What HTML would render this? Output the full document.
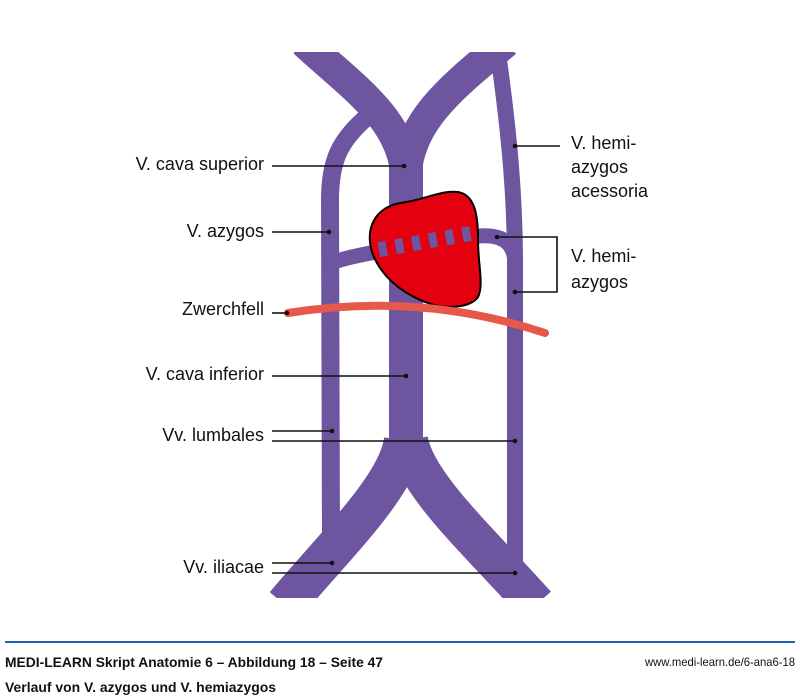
<!DOCTYPE html>
<html><head><meta charset="utf-8"><style>
body{margin:0;background:#fff;}
svg{display:block;}
text{font-family:"Liberation Sans",sans-serif;}
</style></head><body>
<svg width="800" height="696" viewBox="0 0 800 696" xmlns="http://www.w3.org/2000/svg">
<defs><clipPath id="c"><rect x="0" y="52" width="800" height="546"/></clipPath></defs>
<g clip-path="url(#c)" fill="none" stroke="#6e55a0">
 <path d="M304,42 C350,85 402,118 406,175" stroke-width="31"/>
 <path d="M506,42 C455,85 410,118 406,175" stroke-width="31"/>
 <path d="M406,150 L406,450" stroke-width="34"/>
 <path d="M404,440 C398,485 340,540 285,605" stroke-width="40"/>
 <path d="M408,440 C416,485 478,540 536,605" stroke-width="40"/>
 <path d="M331,545 L330,200 C330,160 340,140 368,116" stroke-width="18"/>
 <path d="M515,572 L515,265 C515,200 510,140 499,60" stroke-width="16"/>
 <path d="M331,263 C350,256 380,251 420,245 L470,237 C502,232 515,242 515,265" stroke-width="15"/>
</g>
<path d="M400,203 C425,200 440,190 458,192 C475,195 478,215 478,240 C478,265 484,285 478,297 C470,308 445,310 425,302 C400,292 380,275 372,252 C365,228 375,208 400,203 Z" fill="#e3000f" stroke="#000" stroke-width="2"/>
<g fill="#6e55a0" transform="rotate(-10 425 241)">
 <rect x="378" y="234" width="8" height="15"/><rect x="395" y="234" width="8" height="15"/><rect x="412" y="234" width="8" height="15"/><rect x="429" y="234" width="8" height="15"/><rect x="446" y="234" width="8" height="15"/><rect x="463" y="234" width="8" height="15"/>
</g>
<path d="M288,313 C350,303 440,298 545,333" fill="none" stroke="#e8584a" stroke-width="8" stroke-linecap="round"/>
<g stroke="#111" stroke-width="1.6" fill="none">
 <path d="M272,166 H404"/><path d="M272,232 H329"/><path d="M272,313 H287"/><path d="M272,376 H406"/>
 <path d="M272,431 H332"/><path d="M272,441 H515"/><path d="M272,563 H332"/><path d="M272,573 H515"/>
 <path d="M515,146 H560"/><path d="M497,237 H557 V292 H515"/>
</g>
<g fill="#111">
 <circle cx="404" cy="166" r="2.3"/><circle cx="329" cy="232" r="2.3"/><circle cx="287" cy="313" r="2.3"/><circle cx="406" cy="376" r="2.3"/>
 <circle cx="332" cy="431" r="2.3"/><circle cx="515" cy="441" r="2.3"/><circle cx="332" cy="563" r="2.3"/><circle cx="515" cy="573" r="2.3"/>
 <circle cx="515" cy="146" r="2.3"/><circle cx="497" cy="237" r="2.3"/><circle cx="515" cy="292" r="2.3"/>
</g>
<g font-size="18" fill="#111" text-anchor="end">
 <text x="264" y="170">V. cava superior</text>
 <text x="264" y="237">V. azygos</text>
 <text x="264" y="315">Zwerchfell</text>
 <text x="264" y="380">V. cava inferior</text>
 <text x="264" y="441">Vv. lumbales</text>
 <text x="264" y="573">Vv. iliacae</text>
</g>
<g font-size="18" fill="#111">
 <text x="571" y="149">V. hemi-</text>
 <text x="571" y="173">azygos</text>
 <text x="571" y="197">acessoria</text>
 <text x="571" y="262">V. hemi-</text>
 <text x="571" y="288">azygos</text>
</g>
<rect x="5" y="641" width="790" height="2" fill="#1f5fb0"/>
<text x="5" y="667" font-size="14" font-weight="bold" fill="#111" textLength="378" lengthAdjust="spacingAndGlyphs">MEDI-LEARN Skript Anatomie 6 – Abbildung 18 – Seite 47</text>
<text x="5" y="692" font-size="14" font-weight="bold" fill="#111" textLength="271" lengthAdjust="spacingAndGlyphs">Verlauf von V. azygos und V. hemiazygos</text>
<text x="795" y="666" font-size="12" fill="#111" text-anchor="end" textLength="150" lengthAdjust="spacingAndGlyphs">www.medi-learn.de/6-ana6-18</text>
</svg>
</body></html>
